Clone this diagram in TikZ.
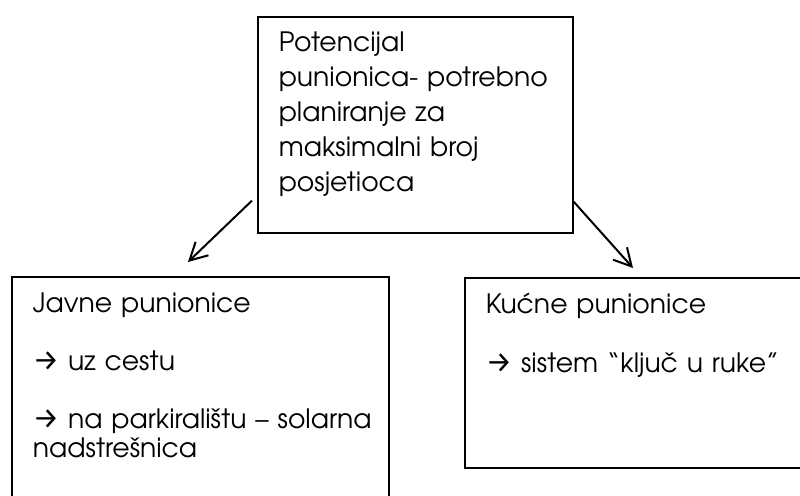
\documentclass[tikz,border=0pt]{standalone}
\usepackage{fontspec}
\setmainfont{texgyreadventor}[Extension=.otf,UprightFont=*-regular]
\newfontfamily\strelicafont{Fira Sans}
\usepackage{tikz}
\usetikzlibrary{arrows.meta,positioning,calc}
\newcommand{\strl}{{\strelicafont\fontsize{22pt}{0pt}\selectfont →}}

\begin{document}
\begin{tikzpicture}[x=0.75pt, y=-0.75pt, >={Straight Barb[length=13pt,width=14pt]},
        okvir/.style={draw, line width=1.2pt, anchor=north west, align=left, inner xsep=15.75pt, text height=0pt, font=\fontsize{20pt}{26.25pt}\selectfont},
        strelica/.style={->, line width=1.5pt}]
        \useasboundingbox (0,0) rectangle (800,496);
        \node[okvir, text width=204.75pt, inner ysep=26.25pt, text depth=109.5pt] (potencijal) at (257,16)
            {Potencijal\\punionica- potrebno\\planiranje za\\maksimalni broj\\posjetioca};
        \node[okvir, text width=251.25pt, inner ysep=27pt, text depth=129pt, font=\fontsize{20pt}{21.75pt}\selectfont] (javne) at (11,276)
            {Javne punionice\\[21.75pt]\strl{} uz cestu\\[21.75pt]\mbox{\strl{} na parkiralištu – solarna}\\nadstrešnica};
        \node[okvir, text width=231.75pt, inner ysep=27pt, text depth=88.5pt, font=\fontsize{20pt}{21.75pt}\selectfont] (kucne) at (464,277)
            {Kućne punionice\\[22.5pt]\strl{} sistem “ključ u ruke”};
        \coordinate (lijevo) at (188,262);
        \coordinate (desno) at (633,268);
        \draw[strelica] ($(potencijal.south west)+(-5,-33)$) -- (lijevo);
        \draw[strelica] ($(potencijal.south east)+(0,-32)$) -- (desno);
\end{tikzpicture}
\end{document}
